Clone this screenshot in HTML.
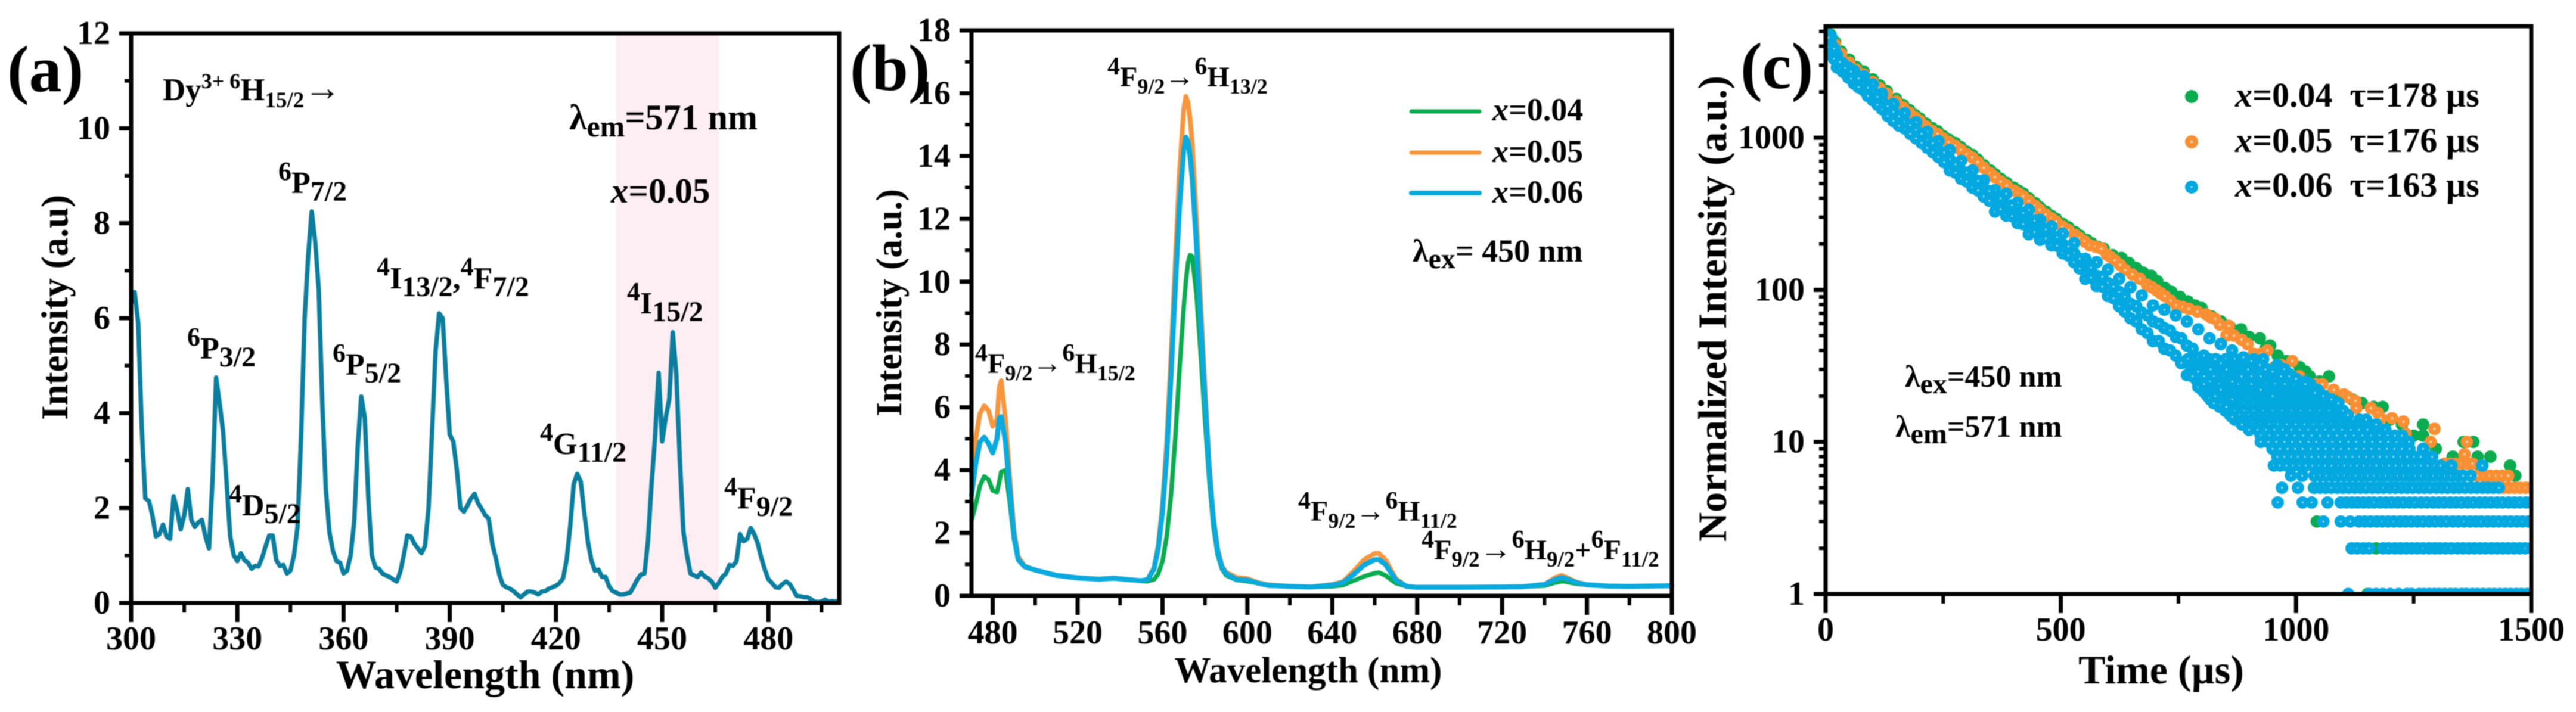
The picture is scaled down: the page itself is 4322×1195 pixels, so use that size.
<!DOCTYPE html>
<html lang="en">
<head>
<meta charset="utf-8">
<title>Dy3+ excitation, emission and decay spectra</title>
<style>
html,body{margin:0;padding:0;background:#fff;}
body{width:4322px;height:1195px;overflow:hidden;}
svg{display:block;filter:blur(0.7px);}
text{font-family:"Liberation Serif","DejaVu Serif",serif;font-weight:bold;fill:#000;}
</style>
</head>
<body>
<svg id="figure" xmlns="http://www.w3.org/2000/svg" width="4322" height="1195" viewBox="0 0 4322 1195">
  <defs>
    <radialGradient id="blueDot">
      <stop offset="0" stop-color="#c4ecf9"/><stop offset="0.07" stop-color="#b0e4f6"/><stop offset="0.2" stop-color="#03a8e0"/><stop offset="1" stop-color="#03a8e0"/>
    </radialGradient>
    <radialGradient id="orangeDot">
      <stop offset="0" stop-color="#fde0c8"/><stop offset="0.1" stop-color="#fcd4b2"/><stop offset="0.28" stop-color="#f98f33"/><stop offset="1" stop-color="#f98f33"/>
    </radialGradient>
    <clipPath id="clipC"><rect x="3063" y="44" width="1184" height="953"/></clipPath>
  </defs>

  <g id="panelA"></g>
  <g id="panelB"></g>
  <g id="panelC"></g>

  <!-- panel labels -->
  <text x="12" y="153" font-size="110">(a)</text>
  <text x="1426" y="151" font-size="110">(b)</text>
  <text x="2920" y="148" font-size="110">(c)</text>

  <!-- axis titles -->
  <text x="814" y="1155" font-size="68" text-anchor="middle">Wavelength (nm)</text>
  <text transform="translate(113 516) rotate(-90)" font-size="63" text-anchor="middle">Intensity (a.u)</text>
  <text x="2195" y="1145" font-size="61" text-anchor="middle">Wavelength (nm)</text>
  <text transform="translate(1512 508) rotate(-90)" font-size="61" text-anchor="middle">Intensity (a.u.)</text>
  <text x="3626" y="1147" font-size="68" text-anchor="middle">Time (µs)</text>
  <text transform="translate(2896 518) rotate(-90)" font-size="68" text-anchor="middle">Normalized Intensity (a.u.)</text>

  <!-- panel a annotations -->
  <text x="273" y="168" font-size="53">Dy<tspan font-size="36" dy="-20">3+ 6</tspan><tspan dy="20">H</tspan><tspan font-size="37" dy="12">15/2</tspan><tspan font-size="62" dy="-12">→</tspan></text>
  <text x="314" y="602" font-size="52"><tspan font-size="44" dy="-22">6</tspan><tspan dy="22">P</tspan><tspan font-size="48" dy="13">3/2</tspan></text>
  <text x="384" y="865" font-size="52"><tspan font-size="44" dy="-22">4</tspan><tspan dy="22">D</tspan><tspan font-size="48" dy="13">5/2</tspan></text>
  <text x="467" y="324" font-size="52"><tspan font-size="44" dy="-22">6</tspan><tspan dy="22">P</tspan><tspan font-size="48" dy="13">7/2</tspan></text>
  <text x="558" y="629" font-size="52"><tspan font-size="44" dy="-22">6</tspan><tspan dy="22">P</tspan><tspan font-size="48" dy="13">5/2</tspan></text>
  <text x="632" y="484" font-size="52"><tspan font-size="44" dy="-22">4</tspan><tspan dy="22">I</tspan><tspan font-size="48" dy="13">13/2</tspan><tspan dy="-13">,</tspan><tspan font-size="44" dy="-22">4</tspan><tspan dy="22">F</tspan><tspan font-size="48" dy="13">7/2</tspan></text>
  <text x="906" y="762" font-size="52"><tspan font-size="44" dy="-22">4</tspan><tspan dy="22">G</tspan><tspan font-size="48" dy="13">11/2</tspan></text>
  <text x="1052" y="526" font-size="52"><tspan font-size="44" dy="-22">4</tspan><tspan dy="22">I</tspan><tspan font-size="48" dy="13">15/2</tspan></text>
  <text x="1215" y="853" font-size="52"><tspan font-size="44" dy="-22">4</tspan><tspan dy="22">F</tspan><tspan font-size="48" dy="13">9/2</tspan></text>
  <text x="955" y="217" font-size="60">λ<tspan font-size="50" dy="12">em</tspan><tspan dy="-12">=571 nm</tspan></text>
  <text x="1025" y="340" font-size="59"><tspan font-style="italic">x</tspan>=0.05</text>

  <!-- panel b annotations -->
  <text x="1858" y="145" font-size="48"><tspan font-size="42" dy="-20">4</tspan><tspan dy="20">F</tspan><tspan font-size="36" dy="12">9/2</tspan><tspan font-size="50" dy="-12">→</tspan><tspan font-size="42" dy="-20">6</tspan><tspan dy="20">H</tspan><tspan font-size="36" dy="12">13/2</tspan></text>
  <text x="1636" y="626" font-size="48"><tspan font-size="42" dy="-20">4</tspan><tspan dy="20">F</tspan><tspan font-size="36" dy="12">9/2</tspan><tspan font-size="50" dy="-12">→</tspan><tspan font-size="42" dy="-20">6</tspan><tspan dy="20">H</tspan><tspan font-size="36" dy="12">15/2</tspan></text>
  <text x="2178" y="874" font-size="48"><tspan font-size="42" dy="-20">4</tspan><tspan dy="20">F</tspan><tspan font-size="36" dy="12">9/2</tspan><tspan font-size="50" dy="-12">→</tspan><tspan font-size="42" dy="-20">6</tspan><tspan dy="20">H</tspan><tspan font-size="36" dy="12">11/2</tspan></text>
  <text x="2385" y="939" font-size="48"><tspan font-size="42" dy="-20">4</tspan><tspan dy="20">F</tspan><tspan font-size="37" dy="12">9/2</tspan><tspan font-size="54" dy="-12">→</tspan><tspan font-size="42" dy="-20">6</tspan><tspan dy="20">H</tspan><tspan font-size="37" dy="12">9/2</tspan><tspan dy="-12">+</tspan><tspan font-size="42" dy="-20">6</tspan><tspan dy="20">F</tspan><tspan font-size="37" dy="12">11/2</tspan></text>

  <line x1="2368" x2="2482" y1="187" y2="187" stroke="#0bab4f" stroke-width="7" stroke-linecap="round"/>
  <line x1="2368" x2="2482" y1="256" y2="256" stroke="#f7963f" stroke-width="7" stroke-linecap="round"/>
  <line x1="2368" x2="2482" y1="324" y2="324" stroke="#0aa9de" stroke-width="8" stroke-linecap="round"/>
  <text x="2504" y="202" font-size="54"><tspan font-style="italic">x</tspan>=0.04</text>
  <text x="2504" y="272" font-size="54"><tspan font-style="italic">x</tspan>=0.05</text>
  <text x="2504" y="340" font-size="54"><tspan font-style="italic">x</tspan>=0.06</text>
  <text x="2370" y="439" font-size="54">λ<tspan font-size="48" dy="11">ex</tspan><tspan dy="-11">= 450 nm</tspan></text>

  <!-- panel c annotations -->
  <circle cx="3677" cy="162" r="11" fill="#0bab4f"/>
  <circle cx="3677" cy="238" r="11" fill="url(#orangeDot)"/>
  <circle cx="3677" cy="314" r="11" fill="url(#blueDot)"/>
  <text x="3750" y="179" font-size="58" xml:space="preserve"><tspan font-style="italic">x</tspan>=0.04  τ=178 µs</text>
  <text x="3750" y="255" font-size="58" xml:space="preserve"><tspan font-style="italic">x</tspan>=0.05  τ=176 µs</text>
  <text x="3750" y="330" font-size="58" xml:space="preserve"><tspan font-style="italic">x</tspan>=0.06  τ=163 µs</text>
  <text x="3196" y="649" font-size="52">λ<tspan font-size="48" dy="11">ex</tspan><tspan dy="-11">=450 nm</tspan></text>
  <text x="3180" y="733" font-size="52">λ<tspan font-size="48" dy="11">em</tspan><tspan dy="-11">=571 nm</tspan></text>
</svg>

<script>
/* ---------- panel (a) data ---------- */
const aStartNm = 300;
const aStepNm = 1;
const aIntensity = [
 6.3,6.55,5.9,3.7,2.2,2.15,1.85,1.4,1.45,1.65,
 1.4,1.35,2.25,1.95,1.55,1.85,2.4,1.75,1.6,1.7,
 1.75,1.4,1.15,2.6,4.75,4.2,3.6,2.5,1.4,1.0,
 .88,1.05,.9,.85,.72,.78,.77,.95,1.2,1.42,
 1.42,.9,.78,.8,.62,.68,1.0,1.6,3.5,6.0,
 7.3,8.25,7.6,6.6,4.2,2.4,1.5,1.1,.88,.85,
 .62,.68,1.0,1.7,3.3,4.35,3.9,2.2,1.0,.75,
 .72,.62,.58,.55,.5,.45,.65,1.0,1.42,1.4,
 1.25,1.15,1.05,1.2,2.0,3.6,5.3,6.1,6.0,4.7,
 3.55,3.4,2.8,2.0,1.92,2.05,2.2,2.3,2.1,1.98,
 1.85,1.78,1.25,.95,.6,.38,.33,.3,.25,.18,
 .12,.18,.24,.24,.22,.18,.24,.25,.3,.33,
 .36,.42,.52,.9,1.6,2.5,2.72,2.55,1.9,1.3,
 .9,.68,.7,.55,.55,.35,.25,.22,.18,.18,
 .2,.22,.35,.5,.6,.62,1.3,2.5,3.5,4.85,
 3.4,3.9,4.3,5.7,4.8,3.0,1.5,1.0,.62,.58,
 .55,.64,.56,.52,.45,.32,.42,.55,.62,.8,
 .78,.88,1.45,1.3,1.35,1.58,1.45,1.25,.95,.7,
 .5,.42,.33,.32,.4,.45,.4,.28,.15,.14,
 .12,.12,.08,.03,.02,.03,.07,.03,.04,.03,.05
];
const aBandNm = [437, 466];
const aXTicks = [300,330,360,390,420,450,480];
const aXMinor = [315,345,375,405,435,465,495];
const aYTicks = [0,2,4,6,8,10,12];
const aYMinor = [1,3,5,7,9,11];

/* ---------- panel (b) data ---------- */
const bWave = [470,472,474,476,478,480,482,483,484,486,488,490,492,495,500,510,520,530,537,545,550,553,556,558,560,562,564,566,568,570,571,572,573,574,576,578,580,582,584,586,588,590,595,600,605,610,620,630,640,645,650,655,660,662,665,670,675,680,700,720,730,740,745,748,750,755,760,770,780,800];
const bX004 = [2.4,2.9,3.5,3.8,3.7,3.35,3.3,3.6,3.95,4.0,3.0,1.8,1.2,.95,.82,.65,.57,.53,.56,.51,.47,.46,.52,.7,1.1,1.9,3.2,5,7.2,9.2,10,10.6,10.85,10.8,9.6,7.7,5.6,3.7,2.2,1.3,.85,.65,.5,.46,.4,.33,.3,.28,.3,.34,.48,.62,.72,.74,.65,.4,.3,.27,.27,.28,.29,.32,.42,.46,.45,.38,.35,.31,.3,.32];
const bX005 = [3.9,5.0,5.8,6.05,5.9,5.4,5.6,6.6,6.85,5.6,3.8,2.1,1.25,.95,.82,.65,.57,.53,.56,.51,.48,.52,.9,1.6,2.9,4.9,7.6,10.6,13.5,15.5,15.9,15.7,15.2,14.4,12,9.3,6.6,4.2,2.5,1.5,.95,.75,.58,.55,.42,.35,.3,.28,.36,.45,.78,1.15,1.35,1.35,1.15,.55,.3,.27,.27,.28,.29,.36,.58,.65,.6,.44,.35,.31,.3,.32];
const bX006 = [3.2,4.2,4.9,5.05,4.85,4.55,5.0,5.65,5.7,4.9,3.4,1.9,1.15,.93,.82,.65,.57,.53,.56,.51,.48,.52,.85,1.5,2.7,4.5,7,9.8,12.4,14.2,14.6,14.45,14,13.3,11.2,8.7,6.2,4,2.4,1.4,.9,.7,.52,.5,.4,.33,.3,.28,.34,.42,.68,.98,1.15,1.15,1.0,.5,.3,.27,.27,.28,.29,.36,.52,.58,.55,.42,.35,.31,.3,.32];
const bXTicks = [480,520,560,600,640,680,720,760,800];
const bXMinor = [500,540,580,620,660,700,740,780];
const bYTicks = [0,2,4,6,8,10,12,14,16,18];
const bYMinor = [1,3,5,7,9,11,13,15,17];

/* ---------- panel (c) data ---------- */
const cXTicks = [0,500,1000,1500];
const cXMinor = [250,750,1250];
const cYTicks = [1,10,100,1000];
const cYMinor = [2,3,4,5,6,7,8,9,20,30,40,50,60,70,80,90,200,300,400,500,600,700,800,900,2000,3000,4000,5000];

const greenTimes = [0,10,20,33,50,65,81,100,115,130,150,165,178,190,200,213,226,238,250,262,275,287,300,312,323,336,350,360,372,385,400,410,420,432,445,455,468,480,490,504,516,530,540,555,565,578,591,610,629,645,660,675,692,705,721,735,753,770,785,799,820,840,860,883,900,923,935,945,961,980,1008,1020,1029,1050,1070,1077,1095,1120,1140,1165,1184,1200,1225,1250,1270,1270,1297,1333,1356,1377,1386,1413,1391,1455,1466,1038,1044,1170,1152];
const greenCounts = [5350,4770,4260,3690,3260,2920,2725,2420,2210,2030,1800,1640,1520,1410,1340,1240,1160,1105,1025,970,923,870,810,770,720,660,610,575,537,505,470,448,430,400,372,350,327,307,293,271,258,240,228,213,203,192,186,169,162,150,139,130,124,114,103,97,90,84,79,76,67,62,57,55,49,48,41,43,37,34,31,29,27,25,27,21,20,19,18,17,17,14,13,11,13,11,9,8,10,10,8,8,7,7,6,5,3,2,1];

const orangeTimes = [0,10,20,33,50,65,81,100,115,130,150,165,178,190,200,213,226,238,250,262,275,287,300,312,323,336,350,360,372,385,400,410,420,432,445,455,468,480,490,504,516,530,540,551,562,574,586,598,606,615,626,637,652,668,683,693,703,712,721,733,746,759,772,790,809,818,828,838,857,852,868,884,897,939,925,910,992,968,954,976,1007,990,1027,1042,1056,1080,1102,1126,1112,1128,1159,1174,1180,1204,1228,1233,1294,1286,1363,1358,1316,1328,1340,1352,1364,1375,1373,1386,1400,1412,1425,1438,1451,1440,1452,1464,1476,1488,1500];
const orangeCounts = [5200,4600,4100,3550,3120,2800,2600,2320,2120,1950,1730,1580,1460,1360,1290,1190,1110,1060,985,935,885,835,780,740,690,635,585,550,515,485,450,430,412,385,357,336,313,295,281,260,247,230,219,208,196,192,187,170,164,156,146,135,126,118,108,104,99.5,95,91,85,79,77,75,72,69,66,64.5,59,58,50,50,47,44,40,38,38,34,32,31,29,27,26,24,24,24,22,20.5,18.6,19.6,16.7,16.7,15.5,14.3,14.3,13.6,11.3,12.2,10,10,8.3,7.2,7.2,7.2,7.2,7.2,7.2,6,6,6,6,6,6,6,5,5,5,5,5,5];

const blueTrackTimes = [0,12,24,36,48,60,81,100,120,144,168,192,216,240,264,288,312,336,360,384,408,432,456,480,504,528,552,576,600,624,648,672,696,720,744,768,792,816,840,864];
const blueTop = [5100,4600,3500,3090,2900,2760,2530,2240,1950,1670,1450,1265,1095,950,830,705,610,525,452,428,374,336,288,261,234,203,160,152,136,118,104,92,79,74,68,62,55,48,44,40];
const blueMid = [4680,4100,3200,2900,2725,2530,2275,1990,1740,1480,1265,1125,965,830,720,610,537,465,392,358,313,280,250,222,199,174,139,124,111,97,81,71,62,56,49,43,36,35,33,25];
const blueBottom = [4100,3500,2900,2725,2490,2275,2050,1770,1540,1290,1150,990,860,745,610,537,470,410,327,307,275,232,213,196,174,152,118,106,91,78,65,55,46,41,37,27.5,23,19.5,17.5,14.6];
const blueFillTimes = [6,18,30,42,54,70,90,110,132,156,180,204,228,252,276,300,324,348,372,396,420,444,468,492,516,540,564,588,612,636,660,684,708,732,756,780,804,828,852];
const blueUpper = [4550,3850,3150,2880,2720,2450,2130,1860,1610,1380,1210,1060,920,800,670,590,520,445,400,360,320,285,250,222,192,160,140,122,105,90,78,68,60,54,48,41,37,35,30];
const blueLower = [3950,3300,2850,2650,2450,2150,1880,1650,1390,1200,1060,925,800,690,590,515,450,385,340,305,270,240,218,195,168,138,120,105,88,72,62,52,46,40,33,27,24,20,17];
const blueExtraTimes = [792,816,840,864,888,905,923,935,950,968,985,1000,1020,1040,1058,1075,1090,1149,1210,1396,884,905,925,950];
const blueExtraCounts = [29,25,22,19,36,34,32,30,29,27,27,26,24,21,20,19,18,14,11,7,27,24,22,20];

const blueRowCounts = [1,2,3,4,5,6,7,8,9,10,11,12,13,14,15,16,17,18,19,20,21,22,24,25,27,28,30,32,35];
const blueRow1 = [1111,1156,1170,1184,1200,1218,1236,1246,1262,1272,1283,1294,1304,1316,1328,1339,1352,1362,1375,1386,1398,1410,1421,1433,1445,1456,1468,1479,1491,1500];
const blueRow2 = [1118,1130,1143,1155,1185,1197,1210,1222,1234,1246,1258,1270,1283,1295,1306,1318,1330,1343,1355,1367,1379,1391,1403,1415,1427,1439,1451,1463,1475,1487,1500];
const blueRow3 = [1058,1095,1115,1134,1146,1158,1171,1183,1196,1208,1221,1233,1245,1258,1270,1283,1295,1308,1320,1333,1345,1357,1370,1382,1394,1407,1419,1431,1444,1456,1469,1481,1494,1500];
const blueRow4 = [961,1014,1033,1067,1095,1107,1119,1131,1143,1155,1166,1179,1191,1203,1216,1228,1241,1253,1266,1278,1291,1303,1315,1328,1340,1352,1365,1377,1390,1402,1414,1427,1439,1452,1464,1476,1489,1500];
const blueRow5 = [970,1004,1039,1051,1063,1075,1088,1100,1112,1125,1137,1149,1162,1174,1186,1199,1211,1224,1236,1248,1261,1273,1285,1298,1310,1322,1335,1347,1359,1372,1384,1396,1407,1419,1431];
const blueRow6 = [989,1013,1039,1052,1065,1078,1090,1103,1116,1128,1141,1153,1166,1179,1191,1204,1216,1229,1242,1254,1267,1280,1292,1305,1317,1330,1343,1355,1371];
const blueRow7 = [953,966,980,994,1008,1021,1035,1049,1062,1076,1090,1103,1117,1130,1144,1158,1171,1185,1198,1212,1226,1239,1253,1266,1280,1294,1307,1330];
const blueRow8 = [960,975,990,1004,1019,1033,1048,1062,1077,1091,1106,1120,1135,1149,1164,1178,1193,1207,1222,1236,1251,1265,1289];
const blueRow9 = [950,966,982,998,1014,1031,1047,1063,1079,1095,1112,1128,1144,1160,1176,1193,1209,1225,1241,1270];
const blueRow10 = [925,941,958,975,992,1009,1026,1043,1060,1077,1094,1111,1128,1145,1162,1179,1196,1213,1240];
const blueRow11 = [925,943,961,979,997,1015,1033,1051,1069,1087,1105,1123,1141,1159,1177,1195,1225];
const blueRow12 = [900,918,936,954,972,990,1008,1026,1044,1062,1080,1098,1116,1134,1152,1190];
const blueRow13 = [885,904,923,942,961,980,999,1018,1037,1056,1075,1094,1113,1132,1170];
const blueRow14 = [870,889,908,927,946,965,984,1003,1022,1041,1060,1079,1098,1135];
const blueRow15 = [860,880,900,920,940,960,980,1000,1020,1040,1060,1080,1110];
const blueRow16 = [850,870,890,910,930,950,970,990,1010,1030,1050,1070,1100];
const blueRow17 = [838,858,878,898,918,938,958,978,998,1018,1038,1058,1090];
const blueRow18 = [825,846,867,888,909,930,951,972,993,1014,1035,1056,1085];
const blueRow19 = [818,838,858,878,898,918,938,958,978,998,1018,1040,1070];
const blueRow20 = [812,834,856,878,900,922,944,966,988,1010,1032,1060];
const blueRow21 = [806,826,846,866,886,906,926,946,966,986,1006,1030,1050];
const blueRow22 = [800,823,846,869,892,915,938,961,984,1007,1045];
const blueRow24 = [796,816,836,856,876,896,916,936,956,976,996,1030];
const blueRow25 = [790,815,840,865,890,915,940,965,990,1020];
const blueRow27 = [785,805,825,845,865,885,905,925,945,965,990];
const blueRow28 = [780,806,832,858,884,910,936,962,985];
const blueRow30 = [778,798,818,838,858,878,898,918,938,958,975];
const blueRow32 = [775,800,825,850,875,900,925,960];
const blueRow35 = [770,790,810,830,850,870,890,910,930];
const blueRowTimes = [blueRow1,blueRow2,blueRow3,blueRow4,blueRow5,blueRow6,blueRow7,blueRow8,blueRow9,blueRow10,blueRow11,blueRow12,blueRow13,blueRow14,blueRow15,blueRow16,blueRow17,blueRow18,blueRow19,blueRow20,blueRow21,blueRow22,blueRow24,blueRow25,blueRow27,blueRow28,blueRow30,blueRow32,blueRow35];

/* ---------- helpers ---------- */
const NS = 'http://www.w3.org/2000/svg';
function svgEl(tag, attrs, parent) {
  const el = document.createElementNS(NS, tag);
  for (const k in attrs) el.setAttribute(k, attrs[k]);
  parent.appendChild(el);
  return el;
}
function linearScale(d0, d1, r0, r1) {
  return v => r0 + (v - d0) * (r1 - r0) / (d1 - d0);
}
function logScale(d0, d1, r0, r1) {
  return v => r0 + (Math.log10(v) - Math.log10(d0)) * (r1 - r0) / (Math.log10(d1) - Math.log10(d0));
}
function drawAxes(g, box, xs, ys, xt, xm, yt, ym, xBase) {
  const grp = svgEl('g', {}, g);
  
  
  const frame = svgEl('rect', {x: box.l, y: box.t, width: box.r - box.l, height: box.b - box.t, fill: 'none', stroke: '#000', 'stroke-width': 7}, grp);
  
  
  xt.forEach(v => {
    const t = svgEl('line', {x1: xs(v), x2: xs(v), y1: box.b, y2: box.b + 32, stroke: '#000', 'stroke-width': 7}, grp);
    
    
    const lab = svgEl('text', {x: xs(v), y: xBase, 'font-size': 56, 'text-anchor': 'middle'}, grp);
    
    
    lab.textContent = v;
  });
  xm.forEach(v => {
    const t = svgEl('line', {x1: xs(v), x2: xs(v), y1: box.b, y2: box.b + 16, stroke: '#000', 'stroke-width': 6}, grp);
    
    
  });
  yt.forEach(v => {
    const t = svgEl('line', {x1: box.l - 20, x2: box.l, y1: ys(v), y2: ys(v), stroke: '#000', 'stroke-width': 7}, grp);
    
    
    const lab = svgEl('text', {x: box.l - 35, y: ys(v) + 18, 'font-size': 56, 'text-anchor': 'end'}, grp);
    
    
    lab.textContent = v;
  });
  ym.forEach(v => {
    const t = svgEl('line', {x1: box.l - 11, x2: box.l, y1: ys(v), y2: ys(v), stroke: '#000', 'stroke-width': 6}, grp);
    
    
  });
}
function drawLine(g, xsArr, ysArr, xs, ys, color, width, name) {
  const pts = xsArr.map((x, i) => xs(x).toFixed(1) + ',' + ys(ysArr[i]).toFixed(1)).join(' ');
  const line = svgEl('polyline', {points: pts, fill: 'none', stroke: color, 'stroke-width': width, 'stroke-linejoin': 'round', 'stroke-linecap': 'round'}, g);
  
  
  return line;
}

/* ---------- panel (a) ---------- */
(function () {
  const g = document.getElementById('panelA');
  const box = {l: 220, r: 1408, t: 56, b: 1012};
  const xs = linearScale(300, 500, box.l, box.r);
  const ys = linearScale(0, 12, box.b, box.t);
  const band = svgEl('rect', {x: xs(aBandNm[0]), y: box.t, width: xs(aBandNm[1]) - xs(aBandNm[0]), height: box.b - box.t, fill: '#fdeef4'}, g);
  
  
  const waves = aIntensity.map((_, i) => aStartNm + i * aStepNm);
  drawLine(g, waves, aIntensity, xs, ys, '#0b7e9f', 7.5, 'excitation-spectrum-line');
  drawAxes(g, box, xs, ys, aXTicks, aXMinor, aYTicks, aYMinor, 1090);
})();

/* ---------- panel (b) ---------- */
(function () {
  const g = document.getElementById('panelB');
  const box = {l: 1630, r: 2805, t: 51, b: 1000};
  const xs = linearScale(470, 800, box.l, box.r);
  const ys = linearScale(0, 18, box.b, box.t);
  drawLine(g, bWave, bX004, xs, ys, '#0bab4f', 7.5, 'emission-line-x004');
  drawLine(g, bWave, bX005, xs, ys, '#f7963f', 8, 'emission-line-x005');
  drawLine(g, bWave, bX006, xs, ys, '#0aa9de', 8.5, 'emission-line-x006');
  drawAxes(g, box, xs, ys, bXTicks, bXMinor, bYTicks, bYMinor, 1080);
})();

/* ---------- panel (c) ---------- */
(function () {
  const g = document.getElementById('panelC');
  const box = {l: 3063, r: 4247, t: 44, b: 997};
  const xs = linearScale(0, 1500, box.l, box.r);
  const ys = logScale(1, 5410, box.b, box.t);
  const clip = svgEl('g', {'clip-path': 'url(#clipC)'}, g);
  
  

  function dot(t, c, fill, name) {
    const p = svgEl('circle', {cx: xs(t).toFixed(1), cy: ys(c).toFixed(1), r: 10.5, fill: fill}, clip);
    
    
  }
  greenTimes.forEach((t, i) => dot(t, greenCounts[i], '#0bab4f', 'point-x004'));
  orangeTimes.forEach((t, i) => dot(t, orangeCounts[i], 'url(#orangeDot)', 'point-x005'));
  blueRowTimes.slice().reverse().forEach((times, r) => {
    const count = blueRowCounts[blueRowCounts.length - 1 - r];
    times.forEach(t => dot(t, count, 'url(#blueDot)', 'point-x006'));
  });
  blueExtraTimes.forEach((t, i) => dot(t, blueExtraCounts[i], 'url(#blueDot)', 'point-x006'));
  blueTrackTimes.forEach((t, i) => {
    dot(t, blueBottom[i], 'url(#blueDot)', 'point-x006');
    dot(t, blueMid[i], 'url(#blueDot)', 'point-x006');
    dot(t, blueTop[i], 'url(#blueDot)', 'point-x006');
  });
  blueFillTimes.forEach((t, i) => {
    dot(t, blueLower[i], 'url(#blueDot)', 'point-x006');
    dot(t, blueUpper[i], 'url(#blueDot)', 'point-x006');
  });
  drawAxes(g, box, xs, ys, cXTicks, cXMinor, cYTicks, cYMinor, 1075);
})();
</script>
</body>
</html>
